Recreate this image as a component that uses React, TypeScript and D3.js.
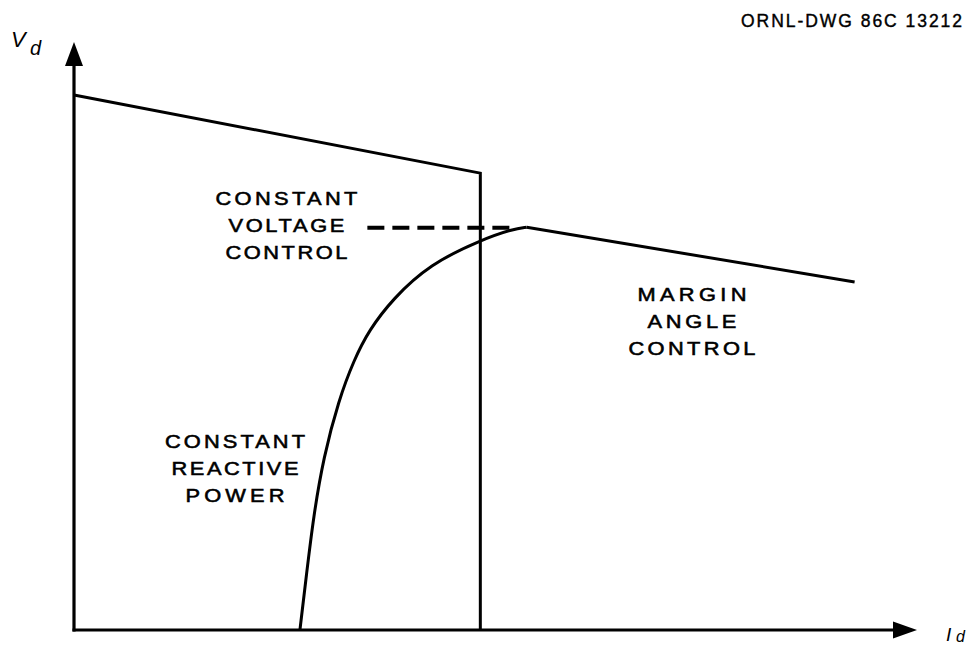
import React from "react";
import * as d3 from "d3";

const W = 976;
const H = 645;

// Converter operating characteristic, Vd versus Id (relative units 0..100)
const constantCurrentLimit = [
  { id: 0, vd: 91.0 },
  { id: 48.2, vd: 77.7 },
  { id: 48.2, vd: 0 },
];

const constantVoltageRef = [
  { id: 34.8, vd: 68.4 },
  { id: 51.7, vd: 68.4 },
];

const reactivePowerCurve = [
  { id: 26.8, vd: 0 },
  { id: 27.6, vd: 9.7 },
  { id: 28.4, vd: 19.2 },
  { id: 29.6, vd: 29.4 },
  { id: 31.4, vd: 39.1 },
  { id: 33.2, vd: 45.9 },
  { id: 35.0, vd: 51.0 },
  { id: 37.8, vd: 56.3 },
  { id: 42.2, vd: 62.2 },
  { id: 48.2, vd: 66.3 },
  { id: 52.1, vd: 68.2 },
  { id: 53.7, vd: 68.5 },
];

const marginAngleLine = [
  { id: 53.7, vd: 68.5 },
  { id: 92.6, vd: 59.2 },
];

// Region labels: anchor point in data units, lines with their drawn widths
const regionLabels = [
  { id: 25.2, vd: 72.3, lines: ["CONSTANT", "VOLTAGE", "CONTROL"], widths: [142, 116, 122] },
  { id: 19.1, vd: 31.0, lines: ["CONSTANT", "REACTIVE", "POWER"], widths: [140, 127, 99] },
  { id: 73.3, vd: 56.0, lines: ["MARGIN", "ANGLE", "CONTROL"], widths: [109, 89, 127] },
];

const drawingNumber = "ORNL-DWG 86C 13212";

// lettering is a slightly extended sans
const STRETCH = 1.18;

export default function App() {
  const x = d3.scaleLinear().domain([0, 100]).range([74, 917]);
  const y = d3.scaleLinear().domain([0, 100]).range([630, 42]);

  const straight = d3
    .line<{ id: number; vd: number }>()
    .x((d) => x(d.id))
    .y((d) => y(d.vd));
  const smooth = d3
    .line<{ id: number; vd: number }>()
    .x((d) => x(d.id))
    .y((d) => y(d.vd))
    .curve(d3.curveBasis);

  const font = "'Liberation Sans', Arial, Helvetica, sans-serif";
  const x0 = x(0);
  const y0 = y(0);
  const yTop = y(100);
  const xEnd = x(100);

  return (
    <svg
      width={W}
      height={H}
      style={{ position: "absolute", left: 0, top: 0, background: "#fff" }}
      fontFamily={font}
    >
      {/* axes */}
      <line x1={x0} y1={y0 + 1.5} x2={x0} y2={yTop + 20} stroke="#000" strokeWidth={3.2} />
      <line x1={x0 - 1.5} y1={y0} x2={xEnd - 20} y2={y0} stroke="#000" strokeWidth={3.2} />
      <path d={`M${x0},${yTop} L${x0 - 9},${yTop + 24} L${x0 + 9},${yTop + 24} Z`} fill="#000" />
      <path d={`M${xEnd},${y0} L${xEnd - 24},${y0 - 8.5} L${xEnd - 24},${y0 + 8.5} Z`} fill="#000" />

      {/* axis labels */}
      <text x={11} y={47} fontSize={22} fontStyle="italic">V</text>
      <text x={30} y={55} fontSize={20} fontStyle="italic">d</text>
      <text x={946} y={641} fontSize={19} fontStyle="italic">I</text>
      <text x={956} y={642} fontSize={16} fontStyle="italic">d</text>

      {/* operating characteristic */}
      <path d={straight(constantCurrentLimit) || ""} fill="none" stroke="#000" strokeWidth={3} strokeLinejoin="miter" />
      <path
        d={straight(constantVoltageRef) || ""}
        fill="none"
        stroke="#000"
        strokeWidth={4}
        strokeDasharray="17 8"
      />
      <path d={smooth(reactivePowerCurve) || ""} fill="none" stroke="#000" strokeWidth={3} />
      <path d={straight(marginAngleLine) || ""} fill="none" stroke="#000" strokeWidth={3} />

      {/* region labels */}
      {regionLabels.map((g, gi) =>
        g.lines.map((t, li) => (
          <g key={`${gi}-${li}`} transform={`translate(${x(g.id)},${y(g.vd) + li * 27}) scale(${STRETCH},1)`}>
            <text
              x={0}
              y={0}
              fontSize={18.5}
              textAnchor="middle"
              textLength={g.widths[li] / STRETCH}
              lengthAdjust="spacing"
              fill="#000"
              stroke="#000"
              strokeWidth={0.55}
            >
              {t}
            </text>
          </g>
        ))
      )}

      <text
        x={741}
        y={27}
        fontSize={17.5}
        textLength={221}
        lengthAdjust="spacing"
        fill="#000"
        stroke="#000"
        strokeWidth={0.4}
      >
        {drawingNumber}
      </text>
    </svg>
  );
}
